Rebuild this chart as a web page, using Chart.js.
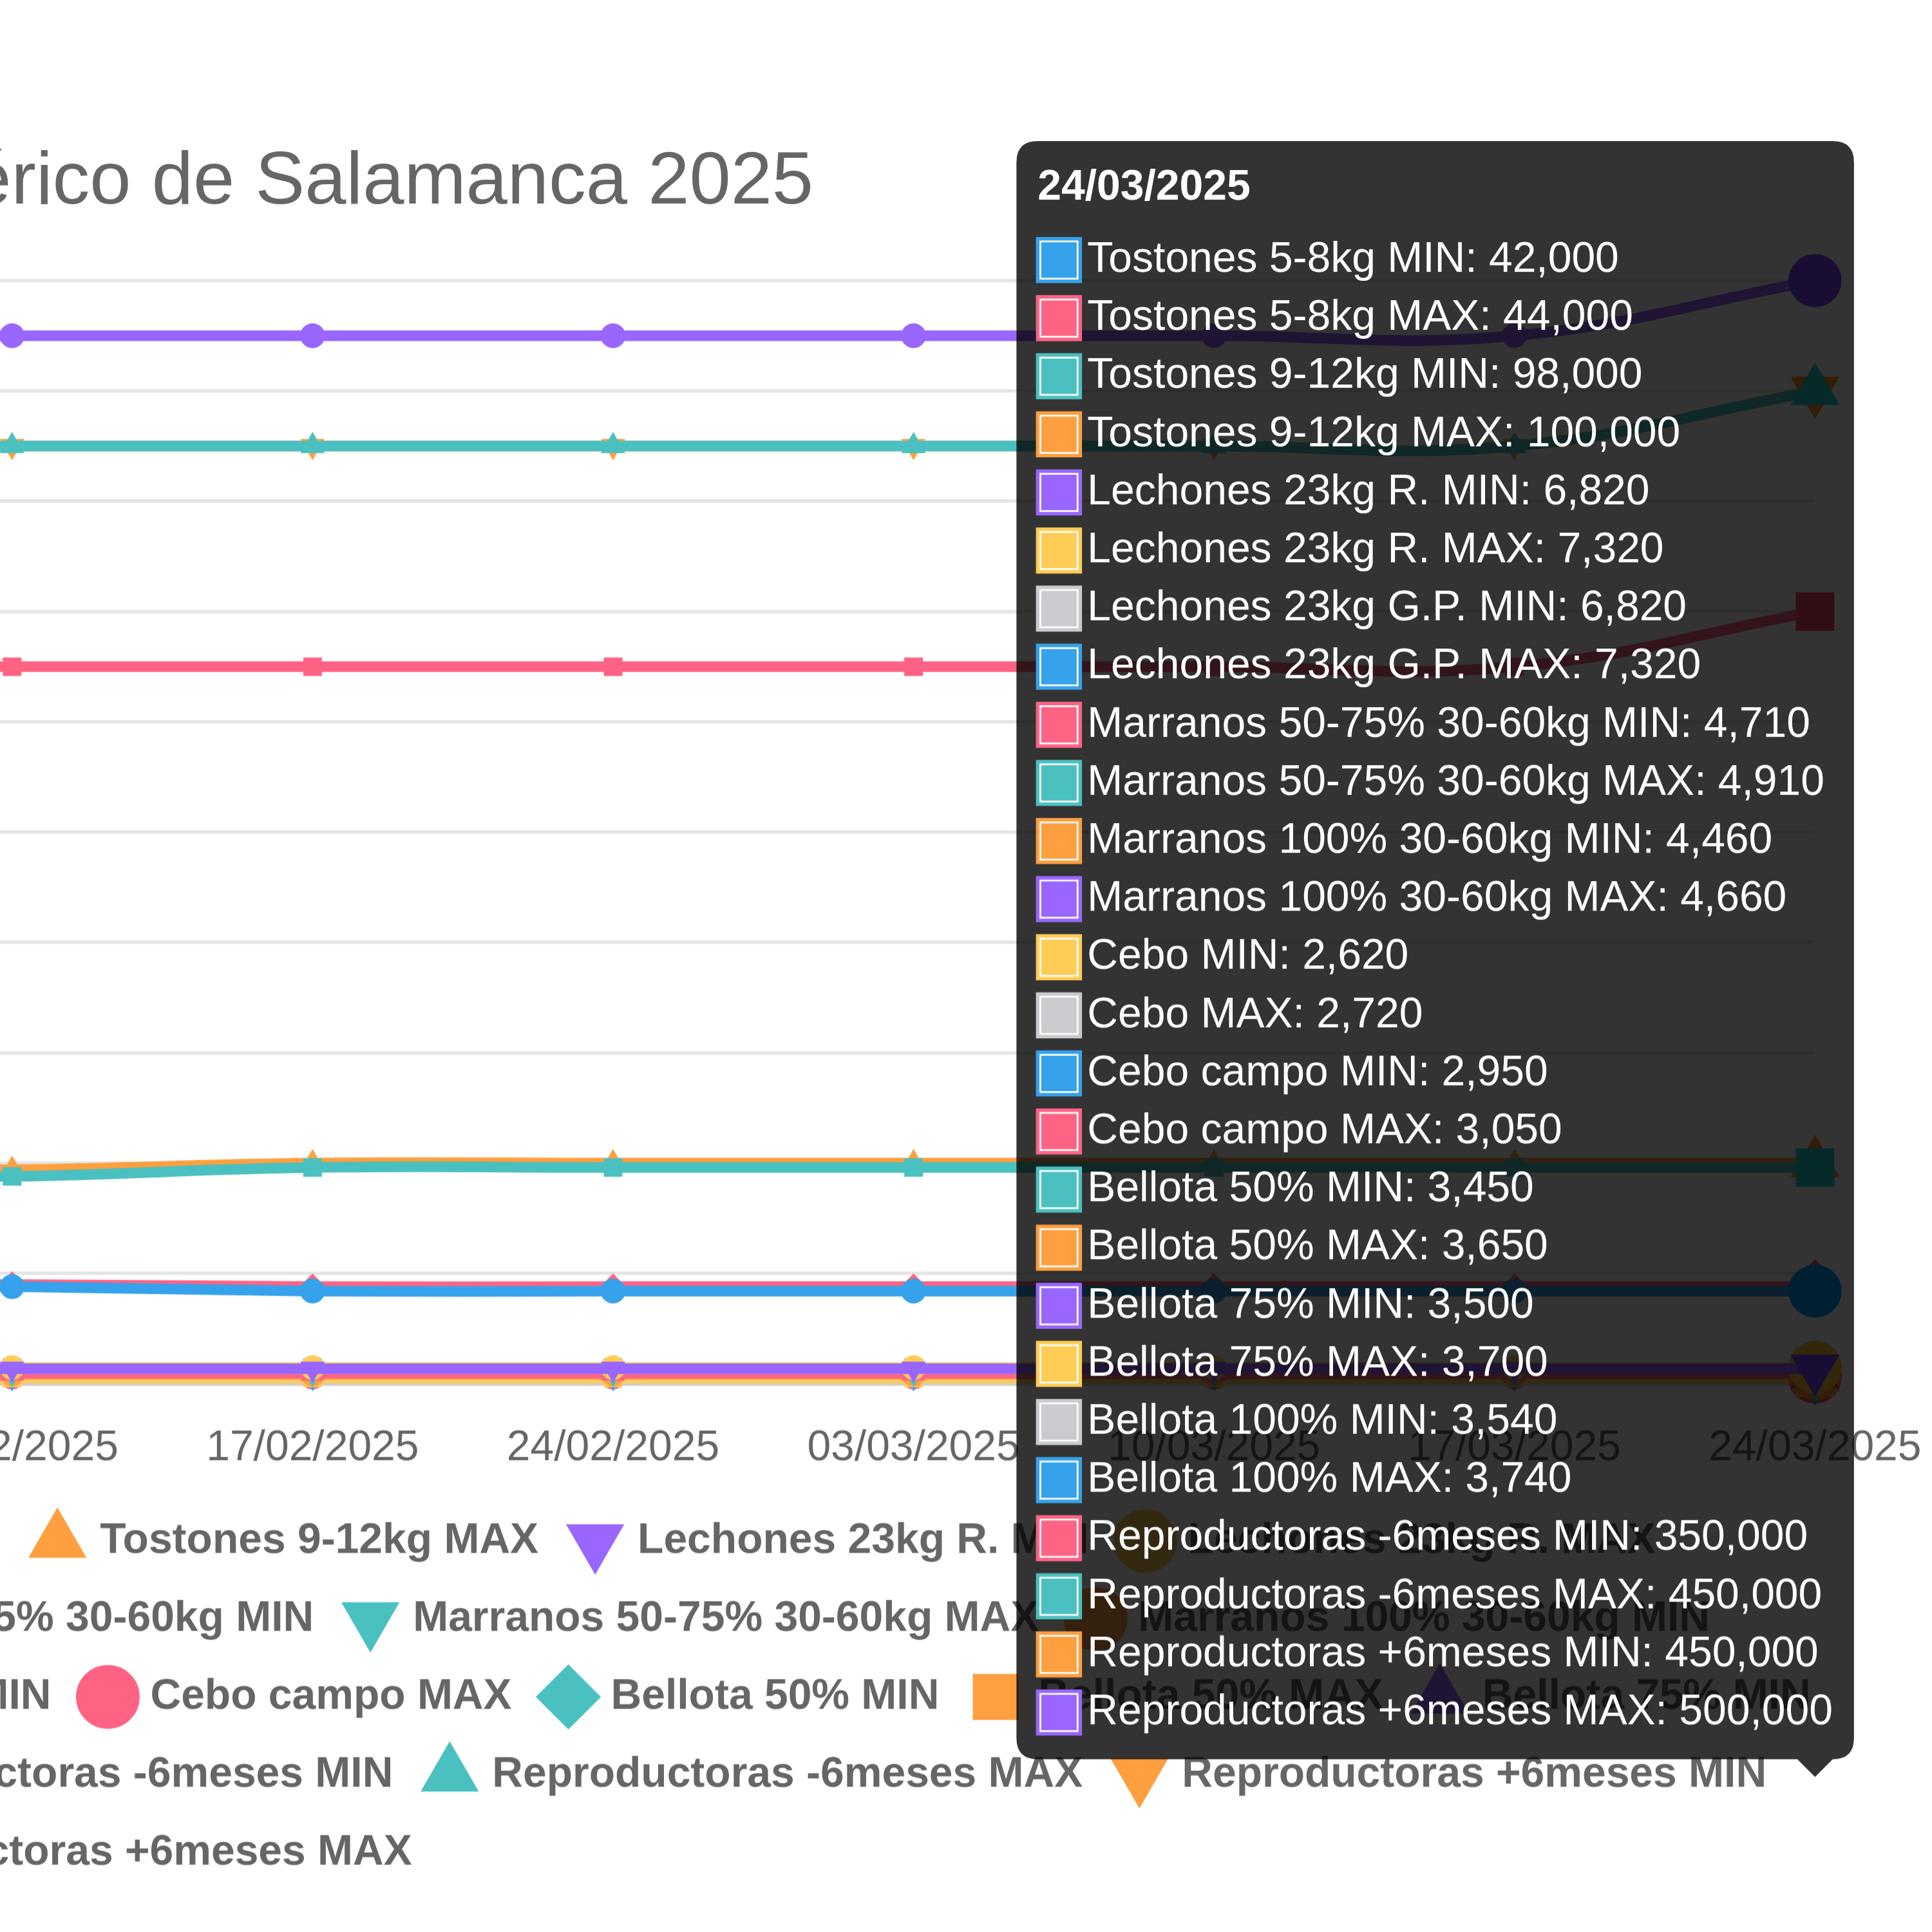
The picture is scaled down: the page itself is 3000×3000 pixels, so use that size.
<!DOCTYPE html>
<html lang="es">
<head>
<meta charset="utf-8">
<title>Porcino Ibérico Salamanca 2025</title>
<script src="https://cdn.jsdelivr.net/npm/chart.js@4.4.1/dist/chart.umd.min.js"></script>
<style>
  html, body { margin: 0; padding: 0; background: #fff; overflow: hidden; width: 3000px; height: 3000px; }
  /* the chart is drawn at 1x units and blown up; only its right half sits in the window */
  #wrap { position: absolute; left: -2753px; top: 0; transform: scale(5.5); transform-origin: 0 0; }
  #wrap canvas { display: block; }
</style>
</head>
<body>
<div id="wrap"><canvas id="preciosChart" width="1046" height="549"></canvas></div>
<script>
// weekly quotes, Lonja de Salamanca (euros)
const fechas = ["06/01/2025", "13/01/2025", "20/01/2025", "27/01/2025", "03/02/2025", "10/02/2025",
  "17/02/2025", "24/02/2025", "03/03/2025", "10/03/2025", "17/03/2025", "24/03/2025"];

const tostones58Min = [44000, 44000, 44000, 44000, 44000, 44000, 42000, 42000, 42000, 42000, 42000, 42000];
const tostones58Max = [45000, 45000, 45000, 45000, 45000, 45000, 44000, 44000, 44000, 44000, 44000, 44000];
const tostones912Min = [94000, 94000, 94000, 94000, 94000, 94000, 98000, 98000, 98000, 98000, 98000, 98000];
const tostones912Max = [97000, 97000, 97000, 97000, 97000, 97000, 100000, 100000, 100000, 100000, 100000, 100000];
const lechonesRMin = [6820, 6820, 6820, 6820, 6820, 6820, 6820, 6820, 6820, 6820, 6820, 6820];
const lechonesRMax = [7320, 7320, 7320, 7320, 7320, 7320, 7320, 7320, 7320, 7320, 7320, 7320];
const lechonesGPMin = [6820, 6820, 6820, 6820, 6820, 6820, 6820, 6820, 6820, 6820, 6820, 6820];
const lechonesGPMax = [7320, 7320, 7320, 7320, 7320, 7320, 7320, 7320, 7320, 7320, 7320, 7320];
const marranos5075Min = [4710, 4710, 4710, 4710, 4710, 4710, 4710, 4710, 4710, 4710, 4710, 4710];
const marranos5075Max = [4910, 4910, 4910, 4910, 4910, 4910, 4910, 4910, 4910, 4910, 4910, 4910];
const marranos100Min = [4460, 4460, 4460, 4460, 4460, 4460, 4460, 4460, 4460, 4460, 4460, 4460];
const marranos100Max = [4660, 4660, 4660, 4660, 4660, 4660, 4660, 4660, 4660, 4660, 4660, 4660];
const ceboMin = [2620, 2620, 2620, 2620, 2620, 2620, 2620, 2620, 2620, 2620, 2620, 2620];
const ceboMax = [2720, 2720, 2720, 2720, 2720, 2720, 2720, 2720, 2720, 2720, 2720, 2720];
const ceboCampoMin = [2950, 2950, 2950, 2950, 2950, 2950, 2950, 2950, 2950, 2950, 2950, 2950];
const ceboCampoMax = [3050, 3050, 3050, 3050, 3050, 3050, 3050, 3050, 3050, 3050, 3050, 3050];
const bellota50Min = [3450, 3450, 3450, 3450, 3450, 3450, 3450, 3450, 3450, 3450, 3450, 3450];
const bellota50Max = [3650, 3650, 3650, 3650, 3650, 3650, 3650, 3650, 3650, 3650, 3650, 3650];
const bellota75Min = [3500, 3500, 3500, 3500, 3500, 3500, 3500, 3500, 3500, 3500, 3500, 3500];
const bellota75Max = [3700, 3700, 3700, 3700, 3700, 3700, 3700, 3700, 3700, 3700, 3700, 3700];
const bellota100Min = [3540, 3540, 3540, 3540, 3540, 3540, 3540, 3540, 3540, 3540, 3540, 3540];
const bellota100Max = [3740, 3740, 3740, 3740, 3740, 3740, 3740, 3740, 3740, 3740, 3740, 3740];
const reproMenos6Min = [325000, 325000, 325000, 325000, 325000, 325000, 325000, 325000, 325000, 325000, 325000, 350000];
const reproMenos6Max = [425000, 425000, 425000, 425000, 425000, 425000, 425000, 425000, 425000, 425000, 425000, 450000];
const reproMas6Min = [425000, 425000, 425000, 425000, 425000, 425000, 425000, 425000, 425000, 425000, 425000, 450000];
const reproMas6Max = [475000, 475000, 475000, 475000, 475000, 475000, 475000, 475000, 475000, 475000, 475000, 500000];

const seriesNames = [
  "Tostones 5-8kg MIN", "Tostones 5-8kg MAX", "Tostones 9-12kg MIN", "Tostones 9-12kg MAX",
  "Lechones 23kg R. MIN", "Lechones 23kg R. MAX", "Lechones 23kg G.P. MIN", "Lechones 23kg G.P. MAX",
  "Marranos 50-75% 30-60kg MIN", "Marranos 50-75% 30-60kg MAX", "Marranos 100% 30-60kg MIN", "Marranos 100% 30-60kg MAX",
  "Cebo MIN", "Cebo MAX", "Cebo campo MIN", "Cebo campo MAX",
  "Bellota 50% MIN", "Bellota 50% MAX", "Bellota 75% MIN", "Bellota 75% MAX",
  "Bellota 100% MIN", "Bellota 100% MAX",
  "Reproductoras -6meses MIN", "Reproductoras -6meses MAX", "Reproductoras +6meses MIN", "Reproductoras +6meses MAX"
];
const seriesValues = [
  tostones58Min, tostones58Max, tostones912Min, tostones912Max,
  lechonesRMin, lechonesRMax, lechonesGPMin, lechonesGPMax,
  marranos5075Min, marranos5075Max, marranos100Min, marranos100Max,
  ceboMin, ceboMax, ceboCampoMin, ceboCampoMax,
  bellota50Min, bellota50Max, bellota75Min, bellota75Max,
  bellota100Min, bellota100Max,
  reproMenos6Min, reproMenos6Max, reproMas6Min, reproMas6Max
];

const palette = ["#36A2EB", "#FF6384", "#4BC0C0", "#FF9F40", "#9966FF", "#FFCD56", "#C9CBCF"];
const markerShapes = ["circle", "rectRot", "rect", "triangle", "triangle"];
const markerTurns = [0, 0, 0, 0, 180];

Chart.defaults.font.family = "'Liberation Sans', Arial, Helvetica, sans-serif";

// tooltip pinned to the hovered week, anchored low under the legend like the capture
Chart.Tooltip.positioners.pinned = function (items) {
  if (!items.length) return false;
  return { x: items[0].element.x, y: this.chart.chartArea.bottom + 113 };
};

const datasets = seriesNames.map((name, i) => ({
  label: name,
  data: seriesValues[i],
  borderColor: palette[i % palette.length],
  backgroundColor: palette[i % palette.length],
  pointStyle: markerShapes[i % markerShapes.length],
  pointRotation: markerTurns[i % markerTurns.length],
  pointHoverRadius: 7,
  tension: 0.4
}));

const chart = new Chart(document.getElementById("preciosChart"), {
  type: "line",
  data: { labels: fechas, datasets: datasets },
  options: {
    responsive: false,
    devicePixelRatio: 5.5,
    animation: false,
    events: [],
    layout: { padding: { top: 20, bottom: 10 } },
    plugins: {
      title: {
        display: true,
        text: "Precios: Porcino Ibérico de Salamanca 2025",
        font: { size: 21, weight: "normal" },
        padding: { top: 19, bottom: 15 }
      },
      legend: {
        position: "bottom",
        labels: { usePointStyle: true, font: { weight: "bold" } }
      },
      tooltip: {
        mode: "index",
        intersect: false,
        position: "pinned",
        xAlign: "right",
        yAlign: "bottom"
      }
    },
    scales: {
      x: { grid: { display: false } },
      y: { title: { display: true, text: "Precio (€)" } }
    }
  }
});

const lastWeek = fechas.length - 1;
const hovered = datasets.map((d, i) => ({ datasetIndex: i, index: lastWeek }));
chart.setActiveElements(hovered);
chart.tooltip.setActiveElements(hovered, { x: 0, y: 0 });
chart.update();
</script>
</body>
</html>
